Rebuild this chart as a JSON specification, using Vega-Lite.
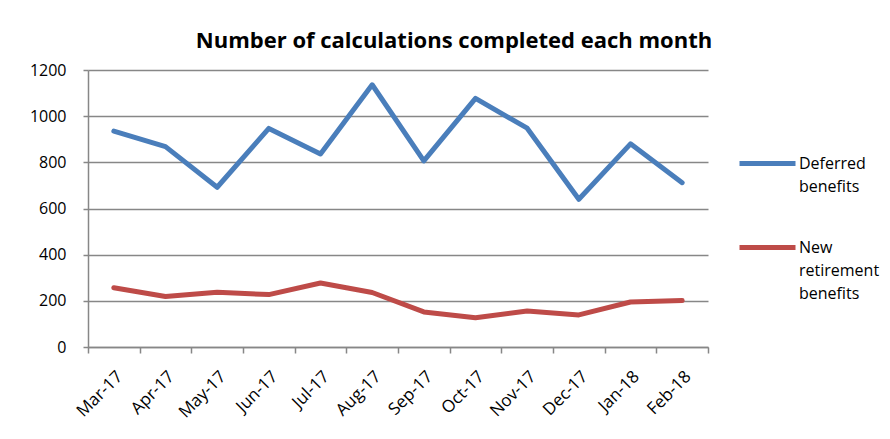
{
  "$schema": "https://vega.github.io/schema/vega-lite/v6.json",
  "autosize": "none",
  "width": 620,
  "height": 277,
  "padding": {"left": 88, "top": 70, "right": 182, "bottom": 92},
  "background": "white",
  "title": {
    "text": "Number of calculations completed each month",
    "font": "Open Sans",
    "fontWeight": "bold",
    "fontSize": 22,
    "color": "#000000",
    "anchor": "middle",
    "frame": "group",
    "dx": 56,
    "offset": 9
  },
  "data": {
    "values": [
      {"month": "Mar-17", "series": "Deferred benefits", "value": 935},
      {"month": "Apr-17", "series": "Deferred benefits", "value": 868},
      {"month": "May-17", "series": "Deferred benefits", "value": 692},
      {"month": "Jun-17", "series": "Deferred benefits", "value": 947},
      {"month": "Jul-17", "series": "Deferred benefits", "value": 836},
      {"month": "Aug-17", "series": "Deferred benefits", "value": 1136},
      {"month": "Sep-17", "series": "Deferred benefits", "value": 806},
      {"month": "Oct-17", "series": "Deferred benefits", "value": 1077},
      {"month": "Nov-17", "series": "Deferred benefits", "value": 948},
      {"month": "Dec-17", "series": "Deferred benefits", "value": 640},
      {"month": "Jan-18", "series": "Deferred benefits", "value": 880},
      {"month": "Feb-18", "series": "Deferred benefits", "value": 712},
      {"month": "Mar-17", "series": "New retirement benefits", "value": 257},
      {"month": "Apr-17", "series": "New retirement benefits", "value": 219},
      {"month": "May-17", "series": "New retirement benefits", "value": 237},
      {"month": "Jun-17", "series": "New retirement benefits", "value": 227},
      {"month": "Jul-17", "series": "New retirement benefits", "value": 277},
      {"month": "Aug-17", "series": "New retirement benefits", "value": 236},
      {"month": "Sep-17", "series": "New retirement benefits", "value": 152},
      {"month": "Oct-17", "series": "New retirement benefits", "value": 127},
      {"month": "Nov-17", "series": "New retirement benefits", "value": 156},
      {"month": "Dec-17", "series": "New retirement benefits", "value": 139},
      {"month": "Jan-18", "series": "New retirement benefits", "value": 195},
      {"month": "Feb-18", "series": "New retirement benefits", "value": 201}
    ]
  },
  "mark": {"type": "line", "strokeWidth": 5, "strokeCap": "round", "strokeJoin": "round"},
  "encoding": {
    "x": {
      "field": "month",
      "type": "ordinal",
      "sort": null,
      "bandPosition": 0.5,
      "scale": {"type": "band", "paddingInner": 0, "paddingOuter": 0},
      "axis": {
        "title": null,
        "labelAngle": -45,
        "labelAlign": "right",
        "labelBaseline": "top",
        "labelFont": "Open Sans",
        "labelFontSize": 17,
        "labelColor": "#000000",
        "labelPadding": 15,
        "tickBand": "extent",
        "tickSize": 6,
        "tickColor": "#878787",
        "tickWidth": 1.5,
        "domainColor": "#878787",
        "domainWidth": 1.5,
        "grid": false
      }
    },
    "y": {
      "field": "value",
      "type": "quantitative",
      "scale": {"domain": [0, 1200], "nice": false},
      "axis": {
        "title": null,
        "format": "d",
        "values": [0, 200, 400, 600, 800, 1000, 1200],
        "labelFont": "Open Sans",
        "labelFontSize": 16,
        "labelColor": "#000000",
        "labelPadding": 17,
        "tickSize": 5,
        "tickColor": "#878787",
        "tickWidth": 1.5,
        "domainColor": "#878787",
        "domainWidth": 1.5,
        "grid": true,
        "gridColor": "#878787",
        "gridWidth": 1.5
      }
    },
    "color": {
      "field": "series",
      "type": "nominal",
      "scale": {"domain": ["Deferred benefits", "New retirement benefits"], "range": ["#4A7EBB", "#BE4B48"]},
      "legend": {
        "title": null,
        "orient": "none",
        "legendX": 649,
        "legendY": 63,
        "symbolType": "stroke",
        "symbolSize": 3136,
        "symbolStrokeWidth": 5,
        "labelFont": "Open Sans",
        "labelFontSize": 16,
        "labelColor": "#000000",
        "labelBaseline": "middle",
        "labelOffset": 1,
        "labelLimit": 200,
        "rowPadding": 22,
        "labelExpr": "datum.label == 'Deferred benefits' ? ['Deferred', 'benefits'] : ['New', 'retirement', 'benefits']"
      }
    }
  },
  "config": {
    "view": {"stroke": null},
    "style": {"guide-label": {"lineHeight": 23}}
  }
}
